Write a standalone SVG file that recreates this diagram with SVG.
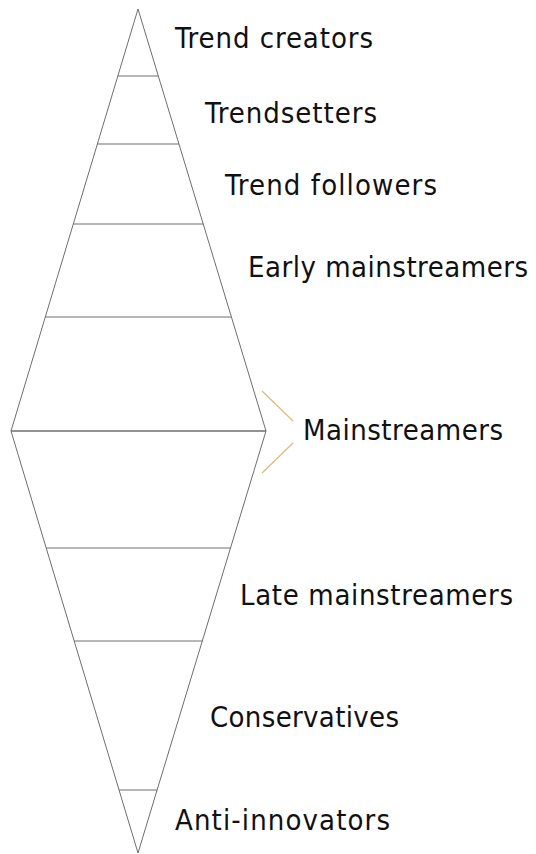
<svg xmlns="http://www.w3.org/2000/svg" width="536" height="854" viewBox="0 0 536 854">
<style>
.e{stroke:#6e6e6e;stroke-width:1;fill:none}
.m{stroke:#6e6e6e;stroke-width:1.6;fill:none}
.b{stroke:#e0bb80;stroke-width:1.3;fill:none}
text{font-family:"DejaVu Sans Condensed","DejaVu Sans",sans-serif;font-size:29px;fill:#111}
</style>
<rect width="536" height="854" fill="#fff"/>
<g id="diamond">
<polygon class="e" points="138,9 266,431 138,853 11,431"/>
</g>
<g id="connectors">
<line class="e" x1="117.8" y1="76" x2="158.3" y2="76"/>
<line class="e" x1="97.4" y1="144" x2="178.9" y2="144"/>
<line class="e" x1="73.3" y1="224" x2="203.2" y2="224"/>
<line class="e" x1="45.3" y1="317" x2="231.4" y2="317"/>
<line class="m" x1="11" y1="431" x2="266" y2="431"/>
<line class="e" x1="46.2" y1="548" x2="230.5" y2="548"/>
<line class="e" x1="74.2" y1="641" x2="202.3" y2="641"/>
<line class="e" x1="119" y1="790" x2="157.1" y2="790"/>
<line class="b" x1="262" y1="391" x2="293" y2="421"/>
<line class="b" x1="293" y1="443" x2="262" y2="473"/>
</g>
<g id="n1"><text x="175" y="48" textLength="198" lengthAdjust="spacing">Trend creators</text></g>
<g id="n2"><text x="205" y="123" textLength="172" lengthAdjust="spacing">Trendsetters</text></g>
<g id="n3"><text x="225" y="195" textLength="212" lengthAdjust="spacing">Trend followers</text></g>
<g id="n4"><text x="248" y="277" textLength="280" lengthAdjust="spacing">Early mainstreamers</text></g>
<g id="n5"><text x="303" y="440" textLength="200" lengthAdjust="spacing">Mainstreamers</text></g>
<g id="n6"><text x="240" y="605" textLength="273" lengthAdjust="spacing">Late mainstreamers</text></g>
<g id="n7"><text x="210" y="727" textLength="189" lengthAdjust="spacing">Conservatives</text></g>
<g id="n8"><text x="175" y="830" textLength="215" lengthAdjust="spacing">Anti-innovators</text></g>
</svg>
